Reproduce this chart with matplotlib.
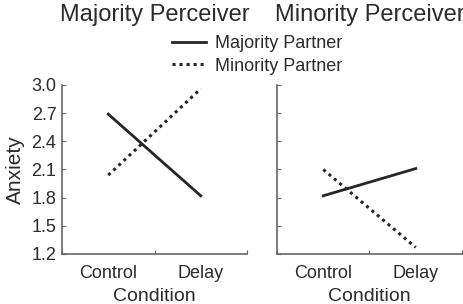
import matplotlib
matplotlib.use("Agg")
import matplotlib.pyplot as plt
from matplotlib.lines import Line2D

plt.rcParams['font.family'] = ['Liberation Sans', 'DejaVu Sans']

conditions = ["Control", "Delay"]
panel_titles = ["Majority Perceiver", "Minority Perceiver"]
series_names = ["Majority Partner", "Minority Partner"]
# values[panel][series] = [Control, Delay]
majority_perceiver_majority_partner = [2.69, 1.82]
majority_perceiver_minority_partner = [2.04, 2.96]
minority_perceiver_majority_partner = [1.82, 2.11]
minority_perceiver_minority_partner = [2.10, 1.27]
y_ticks = [1.2, 1.5, 1.8, 2.1, 2.4, 2.7, 3.0]

panels = [
    [majority_perceiver_majority_partner, majority_perceiver_minority_partner],
    [minority_perceiver_majority_partner, minority_perceiver_minority_partner],
]

text_color = "#2b2b2b"
spine_color = "#666666"

fig = plt.figure(figsize=(4.64, 3.04), dpi=100)
W, H = 464, 304
axes_px = [(62, 247), (277, 462)]
top_px, bottom_px = 85, 254
styles = [dict(linestyle="-", linewidth=2.0), dict(linestyle=(0, (1, 1.3)), linewidth=2.2)]

for i, (x0, x1) in enumerate(axes_px):
    ax = fig.add_axes([x0 / W, 1 - bottom_px / H, (x1 - x0) / W, (bottom_px - top_px) / H])
    xs = [0.5, 1.5]
    for s, vals in enumerate(panels[i]):
        ax.plot(xs, vals, color="#262626", **styles[s])
    ax.set_xlim(0, 2)
    ax.set_ylim(1.2, 3.0)
    ax.set_yticks(y_ticks)
    ax.set_xticks([0, 1, 2])
    ax.set_xticklabels([])
    ax.set_xticks(xs, minor=True)
    ax.set_xticklabels(conditions, minor=True)
    ax.tick_params(axis="x", which="minor", length=0, pad=8, labelsize=13, labelcolor=text_color)
    ax.tick_params(axis="x", which="major", length=3, color=spine_color, direction="in")
    ax.tick_params(axis="y", length=3, color=spine_color, direction="in", labelsize=13,
                   labelcolor=text_color, pad=4)
    if i == 0:
        ax.set_yticklabels([f"{v:.1f}" for v in y_ticks])
        ax.set_ylabel("Anxiety", fontsize=15, color=text_color, labelpad=5)
    else:
        ax.set_yticklabels([])
    ax.set_xlabel("Condition", fontsize=14, color=text_color, labelpad=4)
    for side in ["top", "right"]:
        ax.spines[side].set_visible(False)
    for side in ["left", "bottom"]:
        ax.spines[side].set_color(spine_color)
        ax.spines[side].set_linewidth(1.2)
    fig.text(((x0 + x1) / 2) / W, 1 - 15 / H, panel_titles[i], ha="center", va="center",
             fontsize=17, color=text_color)

handles = [Line2D([0], [0], color="#262626", **styles[0]),
           Line2D([0], [0], color="#262626", **styles[1])]
fig.legend(handles, series_names, loc="center", bbox_to_anchor=(257 / W, 1 - 55 / H),
           frameon=False, fontsize=13, handlelength=1.9, handletextpad=0.45,
           labelspacing=0.3, labelcolor=text_color)

fig.savefig("out.png", dpi=100)
